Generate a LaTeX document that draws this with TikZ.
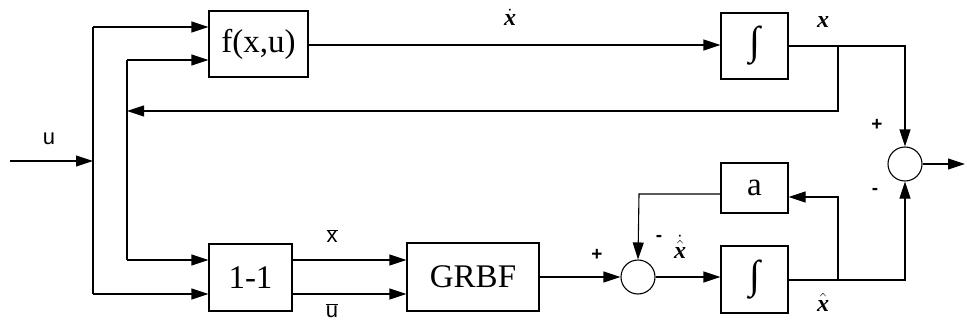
\documentclass[tikz,border=0pt]{standalone}
\usepackage{fontspec}
\setmainfont{Liberation Serif}
\newfontfamily\lsans{Liberation Sans}
\usetikzlibrary{arrows.meta}
\newcommand\vx{\mbox{\bfseries\itshape x}}
\begin{document}
\begin{tikzpicture}[x=1pt,y=-1pt,line width=1.1pt,
  blk/.style={draw,rectangle,inner sep=0pt,font=\fontsize{33}{36}\selectfont},
  sumc/.style={draw,circle,minimum size=34pt,inner sep=0pt},
  arr/.style={-{Triangle[length=17pt,width=11pt]}},
  lbl/.style={font=\lsans\fontsize{22}{24}\selectfont,inner sep=0pt},
  mlbl/.style={font=\fontsize{24}{26}\selectfont,inner sep=0pt},
  pm/.style={font=\lsans\bfseries\fontsize{19}{20}\selectfont,inner sep=0pt}]
\useasboundingbox (0,0) rectangle (965,326);
% blocks
\node[blk,minimum width=99pt,minimum height=66pt] (f) at (258.5,44) {f(x,u)};
\node[blk,minimum width=83pt,minimum height=67pt] (ii) at (250.5,277.5) {1-1};
\node[blk,minimum width=132pt,minimum height=68pt] (g) at (473,277) {GRBF};
\node[blk,minimum width=67pt,minimum height=66pt] (int1) at (754.5,46) {\fontsize{40}{44}\selectfont ∫};
\node[blk,minimum width=67pt,minimum height=50pt] (a) at (754.5,188) {a};
\node[blk,minimum width=67pt,minimum height=67pt] (int2) at (754.5,279.5) {\fontsize{40}{44}\selectfont ∫};
\node[sumc] (s1) at (905,164) {};
\node[sumc] (s2) at (638,277) {};
% coordinates
\coordinate (in) at (10,161);
\coordinate (bu) at (93,161);
\coordinate (bu1) at (93,27);
\coordinate (bu2) at (93,294);
\coordinate (bx) at (838,46);
\coordinate (bxd) at (838,111);
\coordinate (fb) at (127,111);
\coordinate (fb1) at (127,60);
\coordinate (fb2) at (127,260);
\coordinate (xr) at (905,46);
\coordinate (bh) at (838,280);
\coordinate (hr) at (905,280);
\coordinate (ab) at (838,197);
\coordinate (al) at (639,194);
\coordinate (out) at (965,164);
% input u
\draw[arr] (in) -- (bu);
\draw (bu1) -- (bu2);
\draw[arr] (bu1) -- (bu1 -| f.west);
\draw[arr] (bu2) -- (bu2 -| ii.west);
% feedback of x
\draw[arr] (bx) -- (bxd) -- (fb);
\draw (fb1) -- (fb2);
\draw[arr] (fb1) -- (fb1 -| f.west);
\draw[arr] (fb2) -- (fb2 -| ii.west);
% top path
\draw[arr] (f.east |- 0,45) -- (int1.west |- 0,45);
\draw[arr] (int1.east |- xr) -- (xr) -- (s1.north);
% bottom path
\draw[arr] (ii.east |- fb2) -- (g.west |- fb2);
\draw[arr] (ii.east |- bu2) -- (g.west |- bu2);
\draw[arr] (g.east) -- (s2.west);
\draw[arr] (s2.east) -- (int2.west |- s2.east);
\draw[arr] (int2.east |- hr) -- (hr) -- (s1.south);
\draw[arr] (bh) -- (ab) -- (ab -| a.east);
\draw[arr] (a.west |- al) -- (al) -- (s2.north);
\draw[arr] (s1.east) -- (out);
% labels
\node[lbl] (lu) at (49,139) {u};
\node[lbl] (lxb) at (332,236) {$\overline{\mbox{x}}$};
\node[lbl] (lub) at (332,311) {$\overline{\mbox{u}}$};
\node[mlbl,anchor=base] (lxd) at (510,26) {$\dot{\vx}$};
\node[mlbl,anchor=base] (lx) at (823,28) {$\vx$};
\node[mlbl,anchor=base] (lxh) at (823,311) {$\hat{\vx}$};
\node[mlbl,anchor=base] (lxhd) at (680,258) {$\dot{\hat{\vx}}$};
\node[pm] (m1) at (659,238) {-};
\node[pm] (p1) at (597,255) {+};
\node[pm] (p2) at (877,125) {+};
\node[pm] (m2) at (875,191) {-};
\end{tikzpicture}
\end{document}
